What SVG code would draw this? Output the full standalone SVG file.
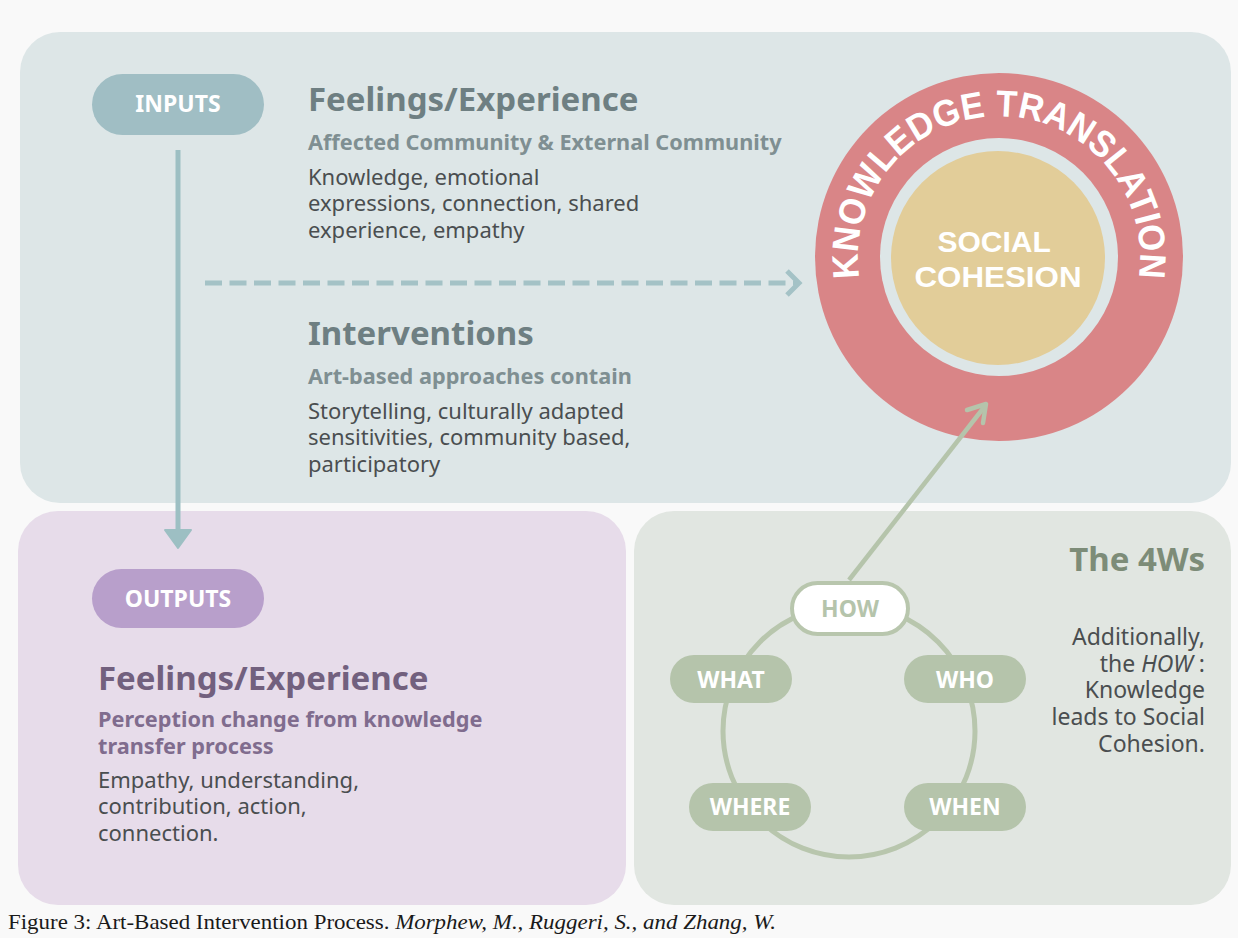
<svg xmlns="http://www.w3.org/2000/svg" width="1238" height="938" viewBox="0 0 1238 938">
  <style>
    .sans { font-family: "Noto Sans", "Liberation Sans", sans-serif; }
    .title { font-size: 33px; font-weight: 700; }
    .sub { font-size: 21.7px; font-weight: 700; }
    .body { font-size: 22px; fill: #4a4e50; }
    .note { font-size: 23px; }
    .pill-label { font-size: 23px; font-weight: 700; fill: #ffffff; text-anchor: middle; }
    .w-pill { fill: #b5c4ab; }
  </style>
  <defs>
    <path id="kt-arc" d="M 860.1 281.5 A 141 141 0 1 1 1137.9 281.5"/>
  </defs>

  <!-- page background -->
  <rect x="0" y="0" width="1238" height="938" fill="#f9f9f9"/>

  <!-- panels -->
  <g id="panels">
    <rect x="20" y="32" width="1211" height="471" rx="40" fill="#dde6e7"/>
    <rect x="18" y="511" width="608" height="394" rx="40" fill="#e7dcea"/>
    <rect x="634" y="511" width="597" height="394" rx="40" fill="#e1e6e1"/>
  </g>

  <!-- inputs -->
  <g id="inputs">
    <rect x="92" y="74" width="172" height="61" rx="30.5" fill="#a0bec4"/>
    <text class="sans pill-label" x="178" y="112">INPUTS</text>
  </g>

  <g id="feelings-in" class="sans">
    <text class="title" x="308" y="111" fill="#6e7f82">Feelings/Experience</text>
    <text class="sub" x="308" y="150" fill="#7f8f92">Affected Community &amp; External Community</text>
    <text class="body" x="308" y="185">Knowledge, emotional</text>
    <text class="body" x="308" y="211">expressions, connection, shared</text>
    <text class="body" x="308" y="238">experience, empathy</text>
  </g>

  <g id="interventions" class="sans">
    <text class="title" x="308" y="345" fill="#6e7f82">Interventions</text>
    <text class="sub" x="308" y="384" fill="#7f8f92">Art-based approaches contain</text>
    <text class="body" x="308" y="419">Storytelling, culturally adapted</text>
    <text class="body" x="308" y="445">sensitivities, community based,</text>
    <text class="body" x="308" y="472">participatory</text>
  </g>

  <!-- knowledge translation ring with social cohesion core -->
  <g id="knowledge-translation">
    <circle cx="999" cy="257" r="184" fill="#d98587"/>
    <circle cx="999" cy="257" r="119" fill="#dde6e7"/>
    <text font-family="Liberation Sans, Arial, sans-serif" font-size="37" font-weight="700" fill="#ffffff">
      <textPath href="#kt-arc" startOffset="50%" text-anchor="middle" textLength="484" lengthAdjust="spacingAndGlyphs">KNOWLEDGE TRANSLATION</textPath>
    </text>
  </g>
  <g id="social-cohesion">
    <circle cx="998" cy="258" r="107" fill="#e2cd99"/>
    <text font-family="Liberation Sans, Arial, sans-serif" font-size="30" font-weight="700" fill="#ffffff" text-anchor="middle">
      <tspan x="998" y="252">SOCIAL</tspan>
      <tspan x="998" y="287" textLength="167" lengthAdjust="spacingAndGlyphs">COHESION</tspan>
    </text>
  </g>

  <!-- outputs -->
  <g id="outputs">
    <rect x="92" y="569" width="172" height="59" rx="29.5" fill="#b89fcb"/>
    <text class="sans pill-label" x="178" y="607">OUTPUTS</text>
  </g>

  <g id="feelings-out" class="sans">
    <text class="title" x="98" y="690" fill="#72607e">Feelings/Experience</text>
    <text class="sub" x="98" y="727" fill="#806c8e">Perception change from knowledge</text>
    <text class="sub" x="98" y="754" fill="#806c8e">transfer process</text>
    <text class="body" x="98" y="788">Empathy, understanding,</text>
    <text class="body" x="98" y="814">contribution, action,</text>
    <text class="body" x="98" y="841">connection.</text>
  </g>

  <!-- the 4Ws cycle -->
  <g id="four-ws-ring">
    <circle cx="849" cy="731" r="126" fill="none" stroke="#b8c6ad" stroke-width="5"/>
  </g>
  <g id="how">
    <rect x="792" y="583" width="116" height="51" rx="25.5" fill="#ffffff" stroke="#b8c6ad" stroke-width="4"/>
    <text class="sans pill-label" x="850" y="617" style="fill:#b5c4ab">HOW</text>
  </g>
  <g id="what">
    <rect class="w-pill" x="670" y="655" width="122" height="48" rx="24"/>
    <text class="sans pill-label" x="731" y="688">WHAT</text>
  </g>
  <g id="who">
    <rect class="w-pill" x="904" y="655" width="122" height="48" rx="24"/>
    <text class="sans pill-label" x="965" y="688">WHO</text>
  </g>
  <g id="where">
    <rect class="w-pill" x="689" y="783" width="122" height="48" rx="24"/>
    <text class="sans pill-label" x="750" y="815">WHERE</text>
  </g>
  <g id="when">
    <rect class="w-pill" x="904" y="783" width="122" height="48" rx="24"/>
    <text class="sans pill-label" x="965" y="815">WHEN</text>
  </g>

  <g id="four-ws-note" class="sans" text-anchor="end">
    <text class="title" x="1205" y="571" fill="#7d8c78">The 4Ws</text>
    <text class="body note" x="1205" y="645">Additionally,</text>
    <text class="body note" x="1205" y="672">the <tspan font-style="italic">HOW</tspan> :</text>
    <text class="body note" x="1205" y="698">Knowledge</text>
    <text class="body note" x="1205" y="725">leads to Social</text>
    <text class="body note" x="1205" y="752">Cohesion.</text>
  </g>

  <!-- connectors, drawn over the panels and the ring -->
  <g id="connectors" fill="none" stroke-linecap="butt">
    <!-- inputs down to outputs -->
    <line x1="178" y1="150" x2="178" y2="532" stroke="#9dbfc3" stroke-width="5"/>
    <path d="M 165 530 L 191 530 L 178 548 Z" fill="#9dbfc3" stroke="#9dbfc3" stroke-width="2" stroke-linejoin="round"/>
    <!-- dashed arrow toward the ring -->
    <line x1="205" y1="283" x2="796" y2="283" stroke="#a4c2c6" stroke-width="5" stroke-dasharray="17 7.5"/>
    <polyline points="787,271 799,283 787,295" stroke="#a4c2c6" stroke-width="5" stroke-linejoin="miter"/>
    <!-- HOW up to social cohesion -->
    <line x1="849" y1="580" x2="985" y2="406" stroke="#b5c4ab" stroke-width="4.5"/>
    <polyline points="967,410 986,404 983,423" stroke="#b5c4ab" stroke-width="4.5" stroke-linecap="round" stroke-linejoin="round"/>
  </g>

  <!-- caption -->
  <g id="caption">
    <text x="8" y="929" font-family="Liberation Serif, Times New Roman, serif" font-size="21" fill="#1a1a1a" textLength="768" lengthAdjust="spacingAndGlyphs">Figure 3: Art-Based Intervention Process. <tspan font-style="italic">Morphew, M., Ruggeri, S., and Zhang, W.</tspan></text>
  </g>
</svg>
